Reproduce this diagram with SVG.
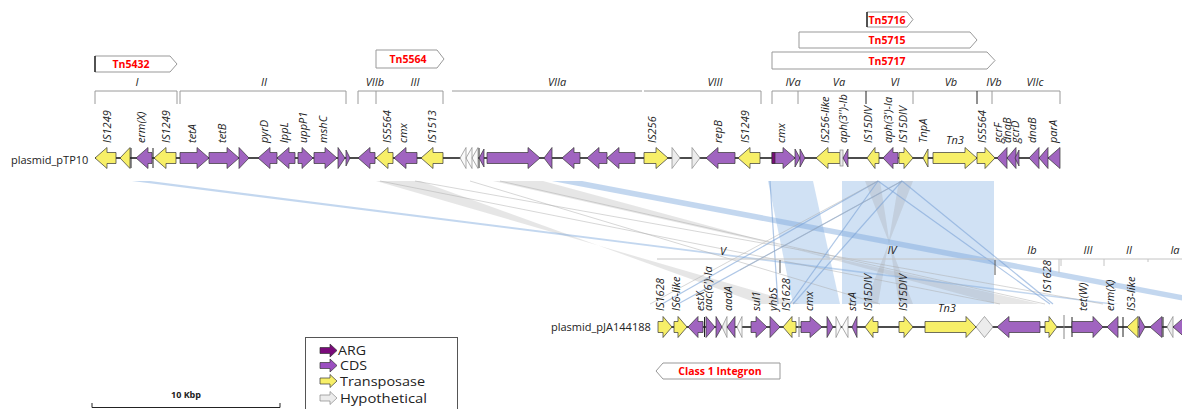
<svg xmlns="http://www.w3.org/2000/svg" width="1182" height="409" viewBox="0 0 1182 409">
<style>
text{font-family:"Open Sans","Noto Sans","DejaVu Sans",sans-serif;fill:#222}
.lab{font-size:11px;font-style:italic}
.reg{font-size:11px;font-style:italic;text-anchor:middle}
.tn{font-size:10.5px;font-weight:bold;fill:#f00;text-anchor:middle}
.pl{font-size:11px}
.lg{font-size:12px}
.p{fill:#a064c0;stroke:#333;stroke-width:0.7}
.y{fill:#f7ef68;stroke:#333;stroke-width:0.7}
.g{fill:#ececec;stroke:#888;stroke-width:0.7}
.arg{fill:#7a0a7a;stroke:#333;stroke-width:0.7}
.br{fill:none;stroke:#9a9a9a;stroke-width:1}
.brl{fill:none;stroke:#c4c4c4;stroke-width:1}
.tk{stroke:#222;stroke-width:1}
.tkg{stroke:#888;stroke-width:1}
.bb{fill:#8ab4e4;fill-opacity:0.4}
.bt{fill:#7aa6dc;fill-opacity:0.45}
.gb{fill:#9a9a9a;fill-opacity:0.25}
.gl{fill:none;stroke:#aaa;stroke-width:0.6;stroke-opacity:0.8}
.bl{fill:none;stroke:#7aa2d6;stroke-width:1.2;stroke-opacity:0.6}
.tnbox{fill:#fff;stroke:#999;stroke-width:1}
.bk{stroke:#000;stroke-width:1.2}
</style>

<g id="connectors">
  <polygon class="bb" points="768,181 813,181 840,304 793,304"/>
  <polygon class="bb" points="842,181 994,181 994,304 842,304"/>
  <polygon class="gb" points="376,181 420,181 760,304 800,304"/>
  <polygon class="gb" points="493,181 543,181 997,304 1040,304"/>
  <polygon class="gb" points="865,181 880,181 899,304 913,304"/>
  <polygon class="gb" points="899,181 913,181 865,304 878,304"/>
  <polygon class="bt" points="552,181 582,181 1230,304 1200,304"/>
  <polygon class="bt" points="132,181 150,181 1118,304 1107,304"/>
  <line class="gl" x1="380" y1="181" x2="1000" y2="304"/>
  <line class="gl" x1="415" y1="181" x2="1103" y2="304"/>
  <line class="gl" x1="470" y1="181" x2="880" y2="304"/>
  <line class="gl" x1="500" y1="181" x2="1045" y2="304"/>
  <line class="bl" x1="878" y1="181" x2="662" y2="304"/>
  <line class="bl" x1="902" y1="181" x2="678" y2="304"/>
  <line class="bl" x1="878" y1="181" x2="790" y2="304"/>
  <line class="bl" x1="902" y1="181" x2="793" y2="304"/>
  <line class="bl" x1="878" y1="181" x2="1050" y2="304"/>
  <line class="bl" x1="902" y1="181" x2="1053" y2="304"/>
  <line class="bl" x1="770" y1="181" x2="778" y2="304"/>
  <line class="gl" x1="878" y1="181" x2="650" y2="304"/>
  <line class="gl" x1="902" y1="181" x2="740" y2="270"/>
</g>

<g id="transposons">
  <polygon class="tnbox" points="95,56 170,56 177,64 170,72 95,72"/>
  <line class="bk" x1="95" y1="56" x2="95" y2="72"/>
  <text class="tn" x="131" y="68">Tn5432</text>
  <polygon class="tnbox" points="376,50 437,50 444,59 437,68 376,68"/>
  <text class="tn" x="408" y="63">Tn5564</text>
  <polygon class="tnbox" points="867,12 907,12 913,19.5 907,27 867,27"/>
  <line class="bk" x1="867" y1="12" x2="867" y2="27"/>
  <text class="tn" x="887" y="23.5">Tn5716</text>
  <polygon class="tnbox" points="799,32 970,32 977,40 970,48 799,48"/>
  <text class="tn" x="887" y="44">Tn5715</text>
  <polygon class="tnbox" points="772,52 987,52 995,60.5 987,69 772,69"/>
  <text class="tn" x="887" y="64.5">Tn5717</text>
  <polygon class="tnbox" points="663,363 780,363 780,379 663,379 656,371"/>
  <text class="tn" x="720" y="375">Class 1 Integron</text>
</g>

<g id="regions-top">
  <path class="br" d="M95,104V91H177V104"/><text class="reg" x="137" y="86">I</text>
  <path class="br" d="M180,104V91H346V104"/><text class="reg" x="264" y="86">II</text>
  <path class="br" d="M358,104V91H443V104M376,91V104"/><text class="reg" x="375" y="86">VIIb</text><text class="reg" x="415" y="86">III</text>
  <path class="br" d="M452,91H642"/><text class="reg" x="557" y="86">VIIa</text>
  <path class="br" d="M644,91H761V104"/><text class="reg" x="715" y="86">VIII</text>
  <path class="br" d="M772,104V91H1060V104M798,91V104M913,91V104M992,91V104"/>
  <path class="tk" d="M866,91V104M977,91V104"/>
  <text class="reg" x="793" y="86">IVa</text><text class="reg" x="839" y="86">Va</text><text class="reg" x="895" y="86">VI</text>
  <text class="reg" x="951" y="86">Vb</text><text class="reg" x="994" y="86">IVb</text><text class="reg" x="1035" y="86">VIIc</text>
</g>

<g id="regions-bottom">
  <path class="brl" d="M657,259H1182M1059,259V273M1104,259V266M1061,259V266M1148,259V262"/>
  <path class="tk" d="M780,260V273M995,260V275" style="stroke:#555"/>
  <text class="reg" x="723" y="255">V</text><text class="reg" x="892" y="254">IV</text>
  <text class="reg" x="1032" y="254">Ib</text><text class="reg" x="1088" y="254">III</text>
  <text class="reg" x="1129" y="254">II</text><text class="reg" x="1175" y="254">Ia</text>
</g>

<g id="plasmid_pTP10">
  <text class="pl" x="11" y="164">plasmid_pTP10</text>
  <line x1="95" y1="158" x2="1060" y2="158" stroke="#111" stroke-width="1.3"/>
  <path class="tk" d="M131,148V168M153,148V168M479,148V168"/>
  <polygon class="y" points="116,152.5 107,152.5 107,147.5 95,158 107,168.5 107,163.5 116,163.5"/>
  <polygon class="y" points="130,147.5 120,158 130,168.5"/>
  <polygon class="p" points="152,152.5 148,152.5 148,147.5 136,158 148,168.5 148,163.5 152,163.5"/>
  <polygon class="y" points="176,152.5 166,152.5 166,147.5 154,158 166,168.5 166,163.5 176,163.5"/>
  <polygon class="p" points="180,152.5 197,152.5 197,147.5 209,158 197,168.5 197,163.5 180,163.5"/>
  <polygon class="p" points="209,152.5 227,152.5 227,147.5 239,158 227,168.5 227,163.5 209,163.5"/>
  <polygon class="p" points="239,147.5 249,158 239,168.5"/>
  <polygon class="p" points="277,152.5 270,152.5 270,147.5 258,158 270,168.5 270,163.5 277,163.5"/>
  <polygon class="p" points="295,152.5 289,152.5 289,147.5 277,158 289,168.5 289,163.5 295,163.5"/>
  <polygon class="p" points="298,152.5 302,152.5 302,147.5 313,158 302,168.5 302,163.5 298,163.5"/>
  <polygon class="p" points="314,152.5 325,152.5 325,147.5 337,158 325,168.5 325,163.5 314,163.5"/>
  <polygon class="p" points="338,147.5 345,158 338,168.5"/>
  <polygon class="p" points="346,150 350,158 346,166"/>
  <polygon class="p" points="375,152.5 370,152.5 370,147.5 358,158 370,168.5 370,163.5 375,163.5"/>
  <polygon class="y" points="393,152.5 388,152.5 388,147.5 376,158 388,168.5 388,163.5 393,163.5"/>
  <polygon class="p" points="417,152.5 406,152.5 406,147.5 394,158 406,168.5 406,163.5 417,163.5"/>
  <polygon class="y" points="443,152.5 433,152.5 433,147.5 421,158 433,168.5 433,163.5 443,163.5"/>
  <polygon class="g" points="466,147.5 460,158 466,168.5" style="fill:#fafafa"/>
  <polygon class="g" points="472,147.5 466,158 472,168.5" style="fill:#fafafa"/>
  <polygon class="g" points="478,147.5 472,158 478,168.5" style="fill:#fafafa"/>
  <polygon class="p" points="484,149 479,158 484,167"/>
  <polygon class="p" points="487,152.5 528,152.5 528,147.5 540,158 528,168.5 528,163.5 487,163.5"/>
  <polygon class="p" points="552,147.5 544,158 552,168.5"/>
  <polygon class="p" points="580,152.5 574,152.5 574,147.5 562,158 574,168.5 574,163.5 580,163.5"/>
  <polygon class="p" points="607,152.5 599,152.5 599,147.5 587,158 599,168.5 599,163.5 607,163.5"/>
  <polygon class="p" points="635,152.5 619,152.5 619,147.5 607,158 619,168.5 619,163.5 635,163.5"/>
  <polygon class="y" points="644,152.5 656,152.5 656,147.5 668,158 656,168.5 656,163.5 644,163.5"/>
  <polygon class="g" points="672,147.5 680,158 672,168.5"/>
  <polygon class="g" points="692,147.5 700,158 692,168.5"/>
  <polygon class="p" points="735,152.5 718,152.5 718,147.5 706,158 718,168.5 718,163.5 735,163.5"/>
  <polygon class="y" points="760,152.5 750,152.5 750,147.5 738,158 750,168.5 750,163.5 760,163.5"/>
  <polygon class="p" points="772,152.5 783,152.5 783,147.5 795,158 783,168.5 783,163.5 772,163.5"/>
  <rect class="arg" x="772" y="152.5" width="3" height="11"/>
  <polygon class="p" points="795,149 800,158 795,167"/>
  <polygon class="p" points="800,149 805,158 800,167"/>
  <polygon class="y" points="840,152.5 828,152.5 828,147.5 816,158 828,168.5 828,163.5 840,163.5"/>
  <rect class="g" x="840" y="150" width="3" height="16"/>
  <polygon class="p" points="848,149 843,158 848,167"/>
  <polygon class="y" points="879,152.5 875,152.5 875,147.5 867,158 875,168.5 875,163.5 879,163.5"/>
  <polygon class="p" points="898,152.5 893,152.5 893,147.5 883,158 893,168.5 893,163.5 898,163.5"/>
  <polygon class="y" points="899,152.5 904,152.5 904,147.5 913,158 904,168.5 904,163.5 899,163.5"/>
  <polygon class="y" points="928,149 923,158 928,167"/>
  <polygon class="y" points="933,152.5 965,152.5 965,147.5 977,158 965,168.5 965,163.5 933,163.5"/>
  <polygon class="y" points="977,152.5 985,152.5 985,147.5 995,158 985,168.5 985,163.5 977,163.5"/>
  <polygon class="p" points="1007,147.5 997,158 1007,168.5"/>
  <polygon class="p" points="1016,147.5 1007,158 1016,168.5"/>
  <polygon class="p" points="1019,150 1015,158 1019,166"/>
  <polygon class="p" points="1039,147.5 1029,158 1039,168.5"/>
  <polygon class="p" points="1048,147.5 1039,158 1048,168.5"/>
  <polygon class="p" points="1060,147.5 1048,158 1060,168.5"/>
  <g class="lab">
    <text transform="translate(111,143) rotate(-90)">IS1249</text>
    <text transform="translate(145,143) rotate(-90)">erm(X)</text>
    <text transform="translate(170,143) rotate(-90)">IS1249</text>
    <text transform="translate(196,143) rotate(-90)">tetA</text>
    <text transform="translate(226,143) rotate(-90)">tetB</text>
    <text transform="translate(268,143) rotate(-90)">pyrD</text>
    <text transform="translate(288,143) rotate(-90)">lppL</text>
    <text transform="translate(307,143) rotate(-90)">uppP1</text>
    <text transform="translate(327,143) rotate(-90)">mshC</text>
    <text transform="translate(391,143) rotate(-90)">IS5564</text>
    <text transform="translate(407,143) rotate(-90)">cmx</text>
    <text transform="translate(436,143) rotate(-90)">IS1513</text>
    <text transform="translate(656,143) rotate(-90)">IS256</text>
    <text transform="translate(722,143) rotate(-90)">repB</text>
    <text transform="translate(749,143) rotate(-90)">IS1249</text>
    <text transform="translate(785,143) rotate(-90)">cmx</text>
    <text transform="translate(829,143) rotate(-90)">IS256-like</text>
    <text transform="translate(847,143) rotate(-90)">aph(3'')-Ib</text>
    <text transform="translate(872,143) rotate(-90)">IS15DIV</text>
    <text transform="translate(892,143) rotate(-90)">aph(3')-Ia</text>
    <text transform="translate(907,143) rotate(-90)">IS15DIV</text>
    <text transform="translate(927,143) rotate(-90)">TnpA</text>
    <text x="955" y="144" text-anchor="middle">Tn3</text>
    <text transform="translate(986,143) rotate(-90)">IS5564</text>
    <text transform="translate(1002,143) rotate(-90)">gcrF</text>
    <text transform="translate(1011,143) rotate(-90)">dnaB</text>
    <text transform="translate(1019,143) rotate(-90)">gcrD</text>
    <text transform="translate(1036,143) rotate(-90)">dnaB</text>
    <text transform="translate(1057,143) rotate(-90)">parA</text>
  </g>
</g>

<g id="plasmid_pJA144188">
  <text class="pl" x="551" y="331">plasmid_pJA144188</text>
  <line x1="658" y1="327" x2="1182" y2="327" stroke="#111" stroke-width="1.3"/>
  <path class="tk" d="M704.5,317V337M1072,317V337M1123,317V337M1163,317V337"/>
  <path class="tkg" d="M799,317V337M1064,315V339"/>
  <polygon class="y" points="658,321.5 663,321.5 663,316.5 672,327 663,337.5 663,332.5 658,332.5"/>
  <polygon class="y" points="674,321.5 678,321.5 678,316.5 687,327 678,337.5 678,332.5 674,332.5"/>
  <polygon class="p" points="703,321.5 698,321.5 698,316.5 688,327 698,337.5 698,332.5 703,332.5"/>
  <polygon class="p" points="706,316.5 715,327 706,337.5"/>
  <polygon class="p" points="716,316.5 722,327 716,337.5"/>
  <polygon class="g" points="727,316.5 722,327 727,337.5"/>
  <polygon class="p" points="735,316.5 727,327 735,337.5"/>
  <polygon class="g" points="742,316.5 737,327 742,337.5" style="fill:#fafafa"/>
  <polygon class="p" points="751,321.5 756,321.5 756,316.5 767,327 756,337.5 756,332.5 751,332.5"/>
  <polygon class="p" points="770,316.5 780,327 770,337.5"/>
  <polygon class="y" points="796,321.5 792,321.5 792,316.5 783,327 792,337.5 792,332.5 796,332.5"/>
  <polygon class="p" points="801,321.5 810,321.5 810,316.5 822,327 810,337.5 810,332.5 801,332.5"/>
  <polygon class="p" points="827,316.5 833,327 827,337.5"/>
  <polygon class="g" points="836,316.5 841,327 836,337.5" style="fill:#fafafa"/>
  <polygon class="g" points="848,316.5 842,327 848,337.5" style="fill:#fafafa"/>
  <polygon class="p" points="857,316.5 852,327 857,337.5"/>
  <polygon class="y" points="878,321.5 873,321.5 873,316.5 865,327 873,337.5 873,332.5 878,332.5"/>
  <polygon class="y" points="899,321.5 904,321.5 904,316.5 913,327 904,337.5 904,332.5 899,332.5"/>
  <polygon class="y" points="925,321.5 966,321.5 966,316.5 976,327 966,337.5 966,332.5 925,332.5"/>
  <polygon class="g" points="976,327 984.5,316.5 993,327 984.5,337.5"/>
  <polygon class="p" points="1040,321.5 1009,321.5 1009,316.5 997,327 1009,337.5 1009,332.5 1040,332.5"/>
  <polygon class="y" points="1045,321.5 1049,321.5 1049,316.5 1057,327 1049,337.5 1049,332.5 1045,332.5"/>
  <polygon class="p" points="1072,321.5 1093,321.5 1093,316.5 1103,327 1093,337.5 1093,332.5 1072,332.5"/>
  <polygon class="p" points="1118,316.5 1107,327 1118,337.5"/>
  <polygon class="y" points="1138,316.5 1127,327 1138,337.5"/>
  <polygon class="p" points="1139,316.5 1145,327 1139,337.5"/>
  <polygon class="p" points="1162,316.5 1150,327 1162,337.5"/>
  <polygon class="g" points="1173,316.5 1167,327 1173,337.5"/>
  <polygon class="p" points="1185,316.5 1173,327 1185,337.5"/>
  <g class="lab">
    <text transform="translate(664,311) rotate(-90)">IS1628</text>
    <text transform="translate(680,311) rotate(-90)">IS6-like</text>
    <text transform="translate(704,311) rotate(-90)">estX</text>
    <text transform="translate(712,311) rotate(-90)">aac(6')-Ia</text>
    <text transform="translate(732,311) rotate(-90)">aadA</text>
    <text transform="translate(760,311) rotate(-90)">sul1</text>
    <text transform="translate(777,311) rotate(-90)">yhbS</text>
    <text transform="translate(790,311) rotate(-90)">IS1628</text>
    <text transform="translate(813,311) rotate(-90)">cmx</text>
    <text transform="translate(856,311) rotate(-90)">strA</text>
    <text transform="translate(872,311) rotate(-90)">IS15DIV</text>
    <text transform="translate(907,311) rotate(-90)">IS15DIV</text>
    <text x="947" y="312" text-anchor="middle">Tn3</text>
    <text transform="translate(1051,293) rotate(-90)">IS1628</text>
    <text transform="translate(1087,311) rotate(-90)">tet(W)</text>
    <text transform="translate(1114,311) rotate(-90)">erm(X)</text>
    <text transform="translate(1135,311) rotate(-90)">IS3-like</text>
  </g>
</g>

<g id="legend">
  <rect x="305.5" y="337.5" width="152" height="80" fill="#fff" stroke="#555" stroke-width="1"/>
  <polygon class="arg" points="320,347.5 330,347.5 330,344 337,350.5 330,357 330,353.5 320,353.5"/>
  <text class="lg" x="338" y="355" textLength="28" lengthAdjust="spacingAndGlyphs">ARG</text>
  <polygon class="p" points="320,362.5 330,362.5 330,359 337,365.5 330,372 330,368.5 320,368.5" style="fill:#9b4fc0"/>
  <text class="lg" x="340" y="370" textLength="27" lengthAdjust="spacingAndGlyphs">CDS</text>
  <polygon class="y" points="320,378 330,378 330,374.5 337,381 330,387.5 330,384 320,384"/>
  <text class="lg" x="340" y="386" textLength="85" lengthAdjust="spacingAndGlyphs">Transposase</text>
  <polygon class="g" points="320,395 330,395 330,391.5 337,398 330,404.5 330,401 320,401"/>
  <text class="lg" x="340" y="403" textLength="87" lengthAdjust="spacingAndGlyphs">Hypothetical</text>
</g>

<g id="scale">
  <text x="186" y="398" font-size="9" font-weight="bold" text-anchor="middle">10 Kbp</text>
  <path d="M92,403V407.5H280V403" fill="none" stroke="#222" stroke-width="1"/>
</g>
</svg>
